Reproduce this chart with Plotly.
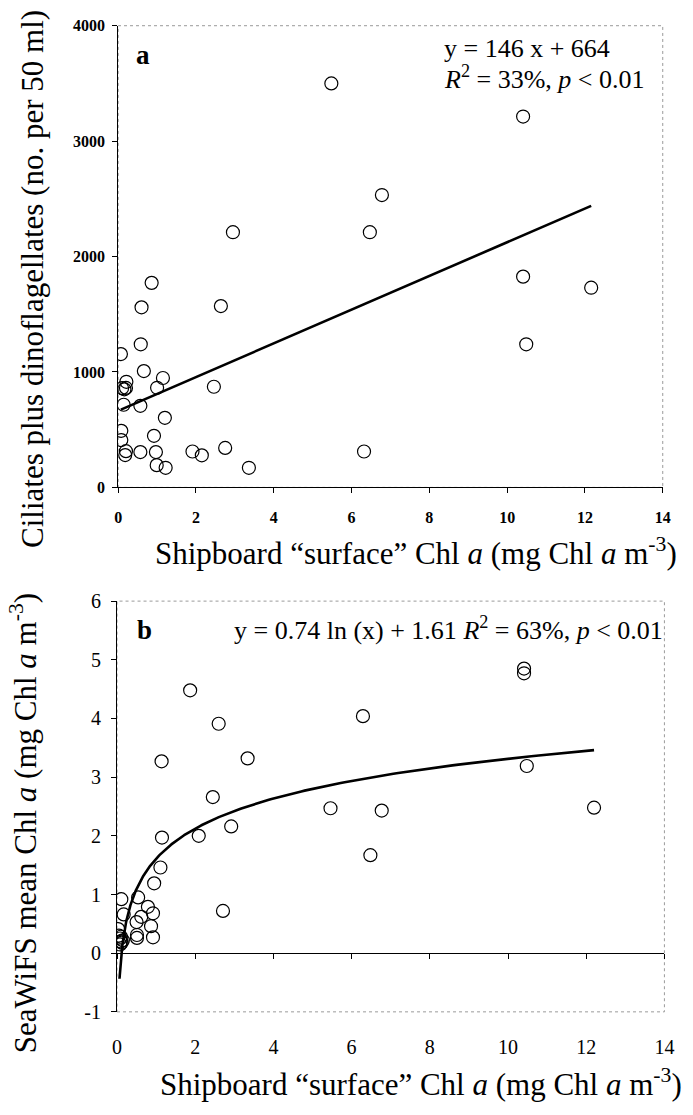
import numpy as np
import plotly.graph_objects as go

# ---------------- data ----------------
# Panel a: shipboard surface Chl a vs ciliates + dinoflagellates
a_chl = [5.48, 2.95, 6.47, 6.78, 10.41, 10.41, 12.16, 10.49,
         0.86, 0.60, 2.64, 0.58, 0.07, 0.66, 1.15, 0.21,
         0.10, 0.16, 0.20, 1.00, 2.46, 0.14, 0.57, 1.20,
         0.08, 0.08, 0.92, 0.20, 0.18, 0.57, 0.97, 1.91,
         2.15, 2.75, 0.99, 1.22, 3.36, 6.32]
a_cil = [3500, 2211, 2211, 2533, 3213, 1826, 1730, 1240,
         1772, 1560, 1571, 1240, 1155, 1008, 948, 915,
         860, 850, 862, 863, 872, 716, 707, 603,
         490, 410, 447, 314, 280, 306, 306, 311,
         278, 342, 193, 170, 170, 311]
a_slope, a_intercept = 146, 664

# Panel b: shipboard surface Chl a vs SeaWiFS mean Chl a
b_chl = [1.87, 2.60, 1.14, 3.34, 6.29, 10.41, 10.41, 10.48, 12.20,
         2.45, 5.46, 6.77, 6.48, 1.15, 2.09, 2.92, 1.11, 0.95, 2.71,
         0.11, 0.54, 0.17, 0.79, 0.92, 0.62, 0.50, 0.87, 0.51, 0.51,
         0.92, 0.03, 0.05, 0.08, 0.10, 0.12, 0.15, 0.08, 0.10]
b_sea = [4.48, 3.91, 3.27, 3.32, 4.04, 4.85, 4.77, 3.19, 2.48,
         2.66, 2.47, 2.43, 1.67, 1.97, 2.00, 2.16, 1.46, 1.19, 0.72,
         0.92, 0.95, 0.66, 0.79, 0.68, 0.62, 0.53, 0.46, 0.31, 0.26,
         0.27, 0.41, 0.30, 0.25, 0.20, 0.18, 0.22, 0.15, 0.28]
b_coef, b_intercept = 0.74, 1.61
b_curve_start = 0.063

x_ticks = [0, 2, 4, 6, 8, 10, 12, 14]
a_y_ticks = [0, 1000, 2000, 3000, 4000]
b_y_ticks = [-1, 0, 1, 2, 3, 4, 5, 6]
b_y_ticktext = ["-1", "0", "1", "2", "3", "4", "5", "6"]

# ---------------- layout helpers ----------------
W, H = 693, 1115
FONT = "Liberation Serif, Times New Roman, serif"


def px(x):
    return x / W


def py(y):
    return (H - y) / H


fig = go.Figure()

marker = dict(symbol="circle-open", size=13, color="black", line=dict(width=1.2, color="black"))

fig.add_trace(go.Scatter(x=a_chl, y=a_cil, mode="markers", marker=marker,
                         xaxis="x", yaxis="y", showlegend=False))
a_line_x = np.array([min(a_chl), max(a_chl)])
fig.add_trace(go.Scatter(x=a_line_x, y=a_slope * a_line_x + a_intercept, mode="lines",
                         line=dict(color="black", width=2.6),
                         xaxis="x", yaxis="y", showlegend=False))

fig.add_trace(go.Scatter(x=b_chl, y=b_sea, mode="markers", marker=marker,
                         xaxis="x2", yaxis="y2", showlegend=False))
b_line_x = np.geomspace(b_curve_start, max(b_chl), 300)
fig.add_trace(go.Scatter(x=b_line_x, y=b_coef * np.log(b_line_x) + b_intercept, mode="lines",
                         line=dict(color="black", width=2.6),
                         xaxis="x3", yaxis="y2", showlegend=False))

a_dom_x = [px(115.7), px(672.3)]
a_dom_y = [py(486), py(15)]
b_dom_x = [px(114.5), px(674)]
b_dom_y = [py(1021), py(602)]
zero_pos = b_dom_y[0] + (b_dom_y[1] - b_dom_y[0]) / 7.0

tick_a = dict(family=FONT, size=16, color="black", weight="bold")
tick_b = dict(family=FONT, size=20, color="black")

fig.update_layout(
    width=W, height=H,
    margin=dict(l=0, r=0, t=0, b=0),
    paper_bgcolor="white", plot_bgcolor="white",
    font=dict(family=FONT, color="black"),
    xaxis=dict(domain=a_dom_x, anchor="y", range=[0, 14], tickvals=x_ticks,
               ticks="outside", ticklen=5, tickcolor="black", showline=True,
               linecolor="black", linewidth=1, showgrid=False, zeroline=False,
               tickfont=tick_a, ticklabelstandoff=10),
    yaxis=dict(domain=a_dom_y, anchor="x", range=[0, 4000], tickvals=a_y_ticks,
               ticks="outside", ticklen=5, tickcolor="black", showline=True,
               linecolor="black", linewidth=1, showgrid=False, zeroline=False,
               tickfont=tick_a, ticklabelstandoff=4),
    xaxis2=dict(domain=b_dom_x, anchor="y2", range=[0, 14], tickvals=x_ticks,
                ticks="", showline=False, showgrid=False, zeroline=False,
                tickfont=tick_b, ticklabelstandoff=21),
    yaxis2=dict(domain=b_dom_y, anchor="x2", range=[-1, 6], tickvals=b_y_ticks,
                ticktext=b_y_ticktext,
                ticks="outside", ticklen=5, tickcolor="black", showline=True,
                linecolor="black", linewidth=1, showgrid=False, zeroline=False,
                tickfont=tick_b, ticklabelstandoff=6),
    xaxis3=dict(overlaying="x2", anchor="free", position=zero_pos, range=[0, 14],
                tickvals=x_ticks, ticks="outside", ticklen=5, tickcolor="black",
                showline=True, linecolor="black", linewidth=1, showgrid=False,
                zeroline=False, showticklabels=False, side="bottom"),
)

border = dict(color="#9a9a9a", width=1, dash="dot")
fig.add_shape(type="rect", xref="x domain", yref="y domain", x0=0, x1=1, y0=0, y1=1,
              line=border, layer="below")
fig.add_shape(type="rect", xref="x2 domain", yref="y2 domain", x0=0, x1=1, y0=0, y1=1,
              line=border, layer="below")

title_font = dict(family=FONT, size=31, color="black")
eq_font = dict(family=FONT, size=26, color="black")
lab_font = dict(family=FONT, size=27, color="black", weight="bold")

xtitle = "Shipboard \u201csurface\u201d Chl <i>a</i> (mg Chl <i>a</i> m<sup>-3</sup>)"

ann = [
    dict(text="Ciliates plus dinoflagellates (no. per 50 ml)", x=px(28), y=py(273),
         textangle=-90, font=title_font),
    dict(text=xtitle, x=px(420), y=py(551), font=title_font),
    dict(text="SeaWiFS mean Chl <i>a</i> (mg Chl <i>a</i> m<sup>-3</sup>)", x=px(19), y=py(829),
         textangle=-90, font=title_font),
    dict(text=xtitle, x=px(425), y=py(1093), font=title_font),
    dict(text="y = 146 x + 664", x=px(447), y=py(38), xanchor="left", font=eq_font),
    dict(text="<i>R</i><sup>2</sup> = 33%, <i>p</i> &lt; 0.01", x=px(447), y=py(68),
         xanchor="left", font=eq_font),
    dict(text="y = 0.74 ln (x) + 1.61 <i>R</i><sup>2</sup> = 63%, <i>p</i> &lt; 0.01",
         x=px(232), y=py(630), xanchor="left", font=eq_font),
    dict(text="a", x=px(141.5), y=py(44.5), font=lab_font),
    dict(text="b", x=px(142.5), y=py(631), font=lab_font),
]
for a in ann:
    a.setdefault("xanchor", "center")
    a.setdefault("yanchor", "middle")
    fig.add_annotation(xref="paper", yref="paper", showarrow=False, **a)

fig.write_html("out.html")
